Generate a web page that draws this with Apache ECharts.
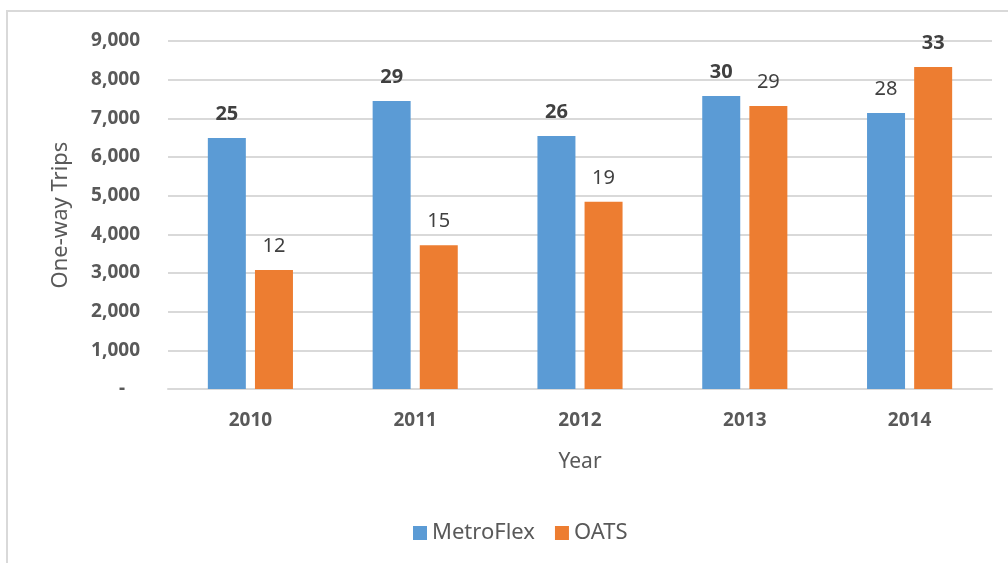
<!DOCTYPE html>
<html>
<head>
<meta charset="utf-8">
<script src="https://cdn.jsdelivr.net/npm/echarts@6/dist/echarts.min.js"></script>
<style>
  html, body { margin: 0; padding: 0; background: #fff; }
  #chart { position: absolute; left: 0; top: 0; width: 1008px; height: 563px; }
  #frame {
    position: absolute; left: 6px; top: 10px; right: 0; bottom: 0;
    border-top: 2px solid #d9d9d9; border-left: 2px solid #d9d9d9;
    pointer-events: none;
  }
</style>
</head>
<body>
<div id="frame"></div>
<div id="chart"></div>
<script>
// Chart data
const years = ['2010', '2011', '2012', '2013', '2014'];
const metroFlexTrips = [6490, 7450, 6540, 7580, 7140];
const oatsTrips = [3080, 3720, 4840, 7320, 8330];
const metroFlexLabels = [25, 29, 26, 30, 28];
const oatsLabels = [12, 15, 19, 29, 33];

document.addEventListener('DOMContentLoaded', () => {
  const chart = echarts.init(document.getElementById('chart'));
  const font = '"Noto Sans", sans-serif';

  // label text comes from the second list; the larger of each pair is bold
  function buildSeries(values, labels, other) {
    return values.map((v, i) => ({
      value: v,
      label: {
        formatter: String(labels[i]),
        fontWeight: labels[i] > other[i] ? 'bold' : 'normal'
      }
    }));
  }

  const labelStyle = {
    show: true,
    position: 'top',
    distance: 14,
    color: '#404040',
    fontSize: 20,
    fontFamily: font
  };

  const option = {
    backgroundColor: 'transparent',
    animation: false,
    textStyle: { fontFamily: font },
    grid: { left: 168, right: 16, top: 41, bottom: 174, containLabel: false },
    legend: {
      data: ['MetroFlex', 'OATS'],
      bottom: 14,
      left: 408,
      itemWidth: 14,
      itemHeight: 14,
      itemGap: 20,
      icon: 'rect',
      textStyle: { color: '#595959', fontSize: 22, fontFamily: font, padding: [0, 0, 0, 0] }
    },
    xAxis: {
      type: 'category',
      data: years,
      name: 'Year',
      nameLocation: 'middle',
      nameGap: 63,
      nameTextStyle: { color: '#595959', fontSize: 21, fontFamily: font },
      axisLine: { lineStyle: { color: '#d9d9d9', width: 2 } },
      axisTick: { show: false },
      axisLabel: { color: '#595959', fontSize: 19, fontWeight: 'bold', margin: 22, fontFamily: font }
    },
    yAxis: {
      type: 'value',
      min: 0,
      max: 9000,
      interval: 1000,
      name: 'One-way Trips',
      nameLocation: 'middle',
      nameGap: 96,
      nameTextStyle: { color: '#595959', fontSize: 22, fontFamily: font },
      axisLine: { show: false },
      axisTick: { show: false },
      splitLine: { lineStyle: { color: '#d9d9d9', width: 2 } },
      axisLabel: {
        color: '#595959',
        fontSize: 19,
        fontWeight: 'bold',
        margin: 28,
        fontFamily: font,
        formatter: v => v === 0 ? '-   ' : v.toLocaleString('en-US')
      }
    },
    series: [
      {
        name: 'MetroFlex',
        type: 'bar',
        barWidth: 38,
        barGap: '24%',
        itemStyle: { color: '#5b9bd5' },
        label: labelStyle,
        data: buildSeries(metroFlexTrips, metroFlexLabels, oatsLabels)
      },
      {
        name: 'OATS',
        type: 'bar',
        barWidth: 38,
        barGap: '24%',
        itemStyle: { color: '#ed7d31' },
        label: labelStyle,
        data: buildSeries(oatsTrips, oatsLabels, metroFlexLabels)
      }
    ]
  };

  chart.setOption(option);
  window.addEventListener('resize', () => chart.resize());
});
</script>
</body>
</html>
